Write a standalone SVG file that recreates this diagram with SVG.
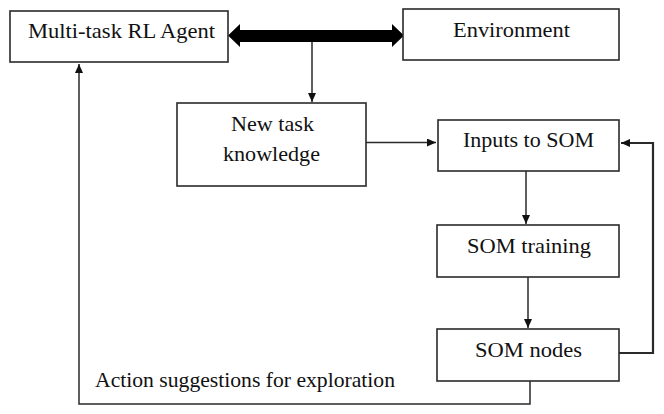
<svg xmlns="http://www.w3.org/2000/svg" width="664" height="414" viewBox="0 0 664 414">
<defs>
<style>
.box{fill:#fff;stroke:#2a2a2a;stroke-width:1.6}
.t{font-family:"Liberation Serif","Times New Roman",serif;font-size:21px;fill:#111;text-anchor:middle}
.ln{fill:none;stroke:#2a2a2a;stroke-width:1.5}
</style>
<marker id="ah" markerWidth="10" markerHeight="8" refX="9" refY="4" orient="auto" markerUnits="userSpaceOnUse">
<path d="M0,0 L9,4 L0,8 Z" fill="#111"/>
</marker>
</defs>
<rect width="664" height="414" fill="#fff"/>
<g id="connectors">
<polygon points="228,35.5 240,24 240,30 392,30 392,24 404,35.5 392,47 392,42 240,42 240,47" fill="#000"/>
<path class="ln" d="M312,42 V102" marker-end="url(#ah)"/>
<path class="ln" d="M366,142.5 H436" marker-end="url(#ah)"/>
<path class="ln" d="M526,171 V224" marker-end="url(#ah)"/>
<path class="ln" d="M528,277 V328" marker-end="url(#ah)"/>
<path class="ln" style="stroke-width:2.2" d="M619,353 H653 V143 H621" marker-end="url(#ah)"/>
<path class="ln" d="M530,381 V404 H79 V64" marker-end="url(#ah)"/>
</g>
<g id="agent">
<rect class="box" x="10" y="11" width="218" height="51"/>
<text class="t" x="121.5" y="38" textLength="187" lengthAdjust="spacingAndGlyphs">Multi-task RL Agent</text>
</g>
<g id="environment">
<rect class="box" x="403" y="9" width="216" height="51"/>
<text class="t" x="511.5" y="37" textLength="117" lengthAdjust="spacingAndGlyphs">Environment</text>
</g>
<g id="newtask">
<rect class="box" x="177" y="103" width="189" height="83"/>
<text class="t" x="272.5" y="131" textLength="83" lengthAdjust="spacingAndGlyphs">New task</text>
<text class="t" x="271.5" y="161" textLength="97" lengthAdjust="spacingAndGlyphs">knowledge</text>
</g>
<g id="inputs">
<rect class="box" x="438" y="120" width="181" height="51"/>
<text class="t" x="528.5" y="147" textLength="131" lengthAdjust="spacingAndGlyphs">Inputs to SOM</text>
</g>
<g id="training">
<rect class="box" x="437" y="225" width="182" height="52"/>
<text class="t" x="529" y="253" textLength="124" lengthAdjust="spacingAndGlyphs">SOM training</text>
</g>
<g id="nodes">
<rect class="box" x="437" y="329" width="182" height="52"/>
<text class="t" x="528.5" y="357" textLength="107" lengthAdjust="spacingAndGlyphs">SOM nodes</text>
</g>
<g id="label">
<text class="t" style="text-anchor:start" x="95" y="387" textLength="300" lengthAdjust="spacingAndGlyphs">Action suggestions for exploration</text>
</g>
</svg>
